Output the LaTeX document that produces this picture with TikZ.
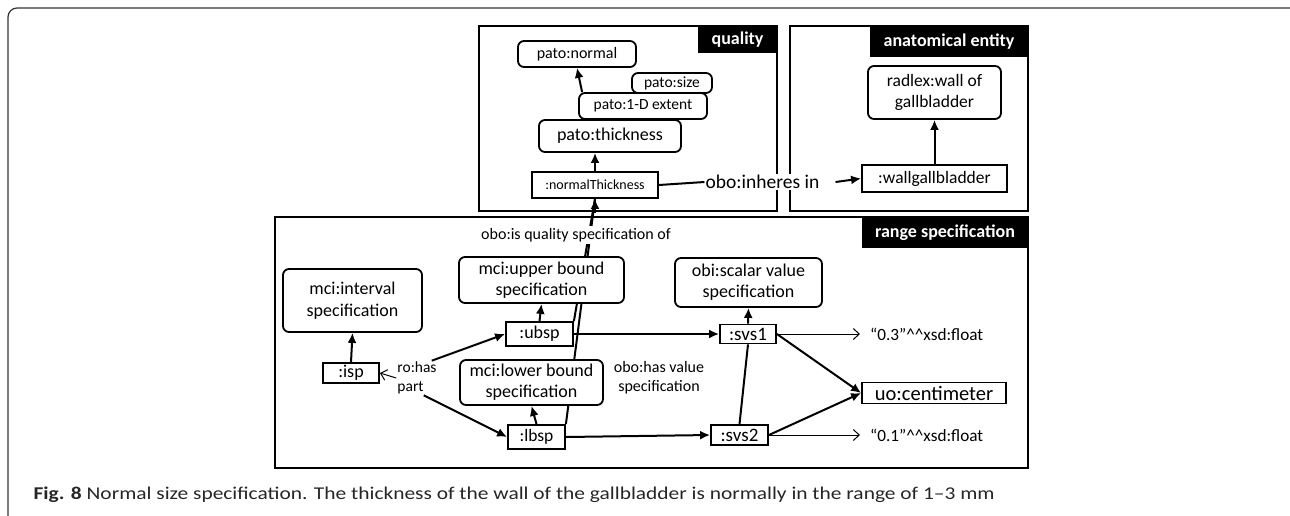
\documentclass[tikz,border=0pt]{standalone}
\usepackage{fontspec}
\setmainfont{Carlito}
\usepackage{tikz}
\usetikzlibrary{shapes,arrows.meta,positioning,calc,backgrounds}

\begin{document}
\begin{tikzpicture}[x=1pt, y=-1pt,
    cls/.style={draw, line width=1.8pt, rounded corners=6pt, fill=white, inner sep=0pt, align=center},
    ind/.style={draw, line width=1.8pt, fill=white, inner sep=0pt, align=center},
    panel/.style={draw, line width=2.8pt},
    tag/.style={fill=black, text=white, inner sep=0pt, font=\fontsize{18}{20}\selectfont\bfseries},
    isa/.style={line width=2pt, -{Latex[length=10pt,width=9pt]}},
    rel/.style={line width=2pt},
    lit/.style={line width=1pt, -{Straight Barb[length=6pt,width=11pt]}}]
\useasboundingbox (0,0) rectangle (1290,515);

% Outer frame and caption
\draw[line width=1.2pt, black!80, rounded corners=9pt] (8,525) -- (8,8) -- (1300,8);
\node[anchor=west, font=\fontsize{18}{20}\selectfont, text=black!85] (cap) at (30,495)
    {\scalebox{1.19}[1]{\textbf{Fig. 8} Normal size specification. The thickness of the wall of the gallbladder is normally in the range of 1--3 mm}};

% Three panels
\begin{pgfonlayer}{background}
\draw[panel] (479,26) rectangle (777,211);
\draw[panel] (790,26) rectangle (1028,211);
\draw[panel] (275,217) rectangle (1028,468);
\end{pgfonlayer}
\node[tag, minimum width=79, minimum height=27] (qtag) at (737.5,39.5) {quality};
\node[tag, minimum width=158, minimum height=31] (atag) at (949,41.5) {anatomical entity};
\node[tag, minimum width=166, minimum height=31] (rtag) at (945,232.5) {range specification};

% Quality
\node[cls, minimum width=118, minimum height=26, font=\fontsize{16}{18}\selectfont] (normal) at (577,54) {pato:normal};
\node[cls, minimum width=80, minimum height=20, font=\fontsize{15.5}{17}\selectfont] (size) at (672,83) {pato:size};
\node[cls, minimum width=128, minimum height=26, font=\fontsize{15.5}{17}\selectfont] (extent) at (643,106) {pato:1-D extent};
\node[cls, minimum width=142, minimum height=32, font=\fontsize{18}{20}\selectfont] (thick) at (610,136) {pato:thickness};
\node[ind, minimum width=126, minimum height=26, font=\fontsize{14}{16}\selectfont] (nthick) at (595,185) {:normalThickness};

% Anatomical entity
\node[cls, minimum width=133, minimum height=53, font=\fontsize{17.5}{21}\selectfont] (radlex) at (934.5,92.5) {radlex:wall of\\gallbladder};
\node[ind, minimum width=145, minimum height=27, font=\fontsize{17.5}{19}\selectfont] (wall) at (934.5,178.5) {:wallgallbladder};
\node[fill=white, inner sep=1pt, font=\fontsize{19.5}{21}\selectfont] (inh) at (762.5,182) {obo:inheres in};

% Range specification
\node[cls, minimum width=139, minimum height=63, font=\fontsize{18}{22}\selectfont] (interval) at (352.5,300.5) {mci:interval\\specification};
\node[ind, minimum width=56, minimum height=20, font=\fontsize{18}{19}\selectfont] (isp) at (351,373) {:isp};
\node[align=left, inner sep=1pt, font=\fontsize{15.5}{19}\selectfont] (part) at (417,378) {ro:has\\part};
\node[cls, minimum width=165, minimum height=46, font=\fontsize{18}{21}\selectfont] (upper) at (541.5,280) {mci:upper bound\\specification};
\node[ind, minimum width=67, minimum height=24, font=\fontsize{18}{19}\selectfont] (ubsp) at (539.5,334) {:ubsp};
\node[cls, minimum width=143, minimum height=45, font=\fontsize{18}{21}\selectfont] (lower) at (531.5,382.5) {mci:lower bound\\specification};
\node[ind, minimum width=57, minimum height=24, font=\fontsize{17.5}{19}\selectfont] (lbsp) at (536.5,437) {:lbsp};
\node[fill=white, inner sep=2pt, font=\fontsize{16}{18}\selectfont] (qspec) at (576,235) {obo:is quality specification of};
\node[align=center, inner sep=1pt, font=\fontsize{16}{19}\selectfont] (hasval) at (659,378) {obo:has value\\specification};
\node[cls, minimum width=147, minimum height=49, font=\fontsize{18}{21}\selectfont] (scalar) at (748.5,282.5) {obi:scalar value\\specification};
\node[ind, minimum width=56, minimum height=19, font=\fontsize{19}{19}\selectfont] (svs1) at (748,334) {:svs1};
\node[ind, minimum width=57, minimum height=20, font=\fontsize{19}{19}\selectfont] (svs2) at (739.5,435) {:svs2};
\node[ind, minimum width=144, minimum height=21, font=\fontsize{20.5}{21}\selectfont] (cm) at (934,393) {uo:centimeter};
\node[anchor=west, inner sep=0pt, font=\fontsize{17.2}{19}\selectfont] (v3) at (870,334) {``0.3''\textasciicircum\textasciicircum xsd:float};
\node[anchor=west, inner sep=0pt, font=\fontsize{17.2}{19}\selectfont] (v1) at (870,435) {``0.1''\textasciicircum\textasciicircum xsd:float};

% Links inside quality and anatomical entity
\draw[isa] (extent.north west) ++(4,0) coordinate (e1) -- (normal.south);
\draw[isa] (nthick.north) -- (nthick.north |- thick.south);
\draw[rel] (nthick.east) -- (inh.west);
\draw[isa] (inh.east) ++(15,0) coordinate (i1) -- (wall.west);
\draw[isa] (wall.north) -- (radlex.south);

% obo:is quality specification of
\begin{pgfonlayer}{background}
\draw[rel] (ubsp.north east) -- (nthick.south);
\draw[rel] (lbsp.north east) -- (nthick.south);
\end{pgfonlayer}
\draw[isa] ($(nthick.south)+(0,14)$) coordinate (q1) -- (nthick.south);

% Range specification links
\draw[isa] (isp.north) -- (interval.south);
\draw[isa] (ubsp.north) -- (upper.south);
\draw[isa] (lbsp.north) -- (lower.south);
\draw[isa] (svs1.north) -- (scalar.south);
\draw[isa] ([xshift=-6]part.north east) -- (ubsp.west);
\draw[isa] ([xshift=-14]part.south east) -- (lbsp.west);
\draw[lit] (part.west) -- (isp.east);
\draw[isa] (ubsp.east) -- (svs1.west);
\draw[isa] (lbsp.east) -- (svs2.west);
\draw[rel] (svs1.south) -- (svs2.north);
\draw[isa] (svs1.east) -- (cm.west);
\draw[isa] (svs2.east) -- (cm.west);
\draw[lit] (svs1.east) -- ([xshift=-10]v3.west);
\draw[lit] (svs2.east) -- ([xshift=-10]v1.west);
\end{tikzpicture}
\end{document}
